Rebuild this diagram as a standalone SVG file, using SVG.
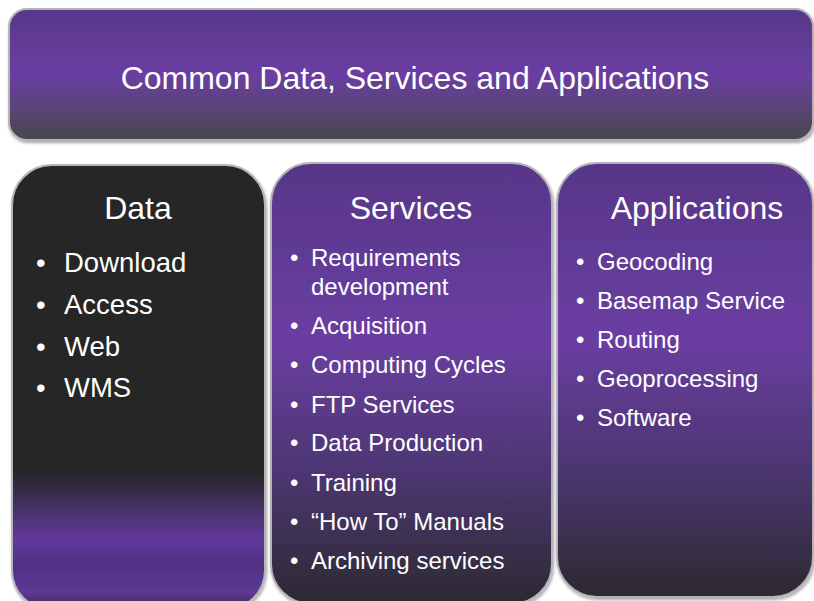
<svg xmlns="http://www.w3.org/2000/svg" width="814" height="601" viewBox="0 0 814 601">
<style>
.box{stroke:#b4b4b8;stroke-width:2}
.t{font-family:"Liberation Sans",Arial,sans-serif;fill:#ffffff}
.h{font-size:32px;text-anchor:middle}
.big{font-size:27.5px}
.sm{font-size:24px}
</style>
<defs>
<linearGradient id="gTop" x1="0" y1="0" x2="0" y2="1">
<stop offset="0" stop-color="#583789"/>
<stop offset="0.5" stop-color="#6a3ea2"/>
<stop offset="0.75" stop-color="#5a4478"/>
<stop offset="1" stop-color="#48464e"/>
</linearGradient>
<linearGradient id="gData" x1="0" y1="0" x2="0" y2="1">
<stop offset="0" stop-color="#262626"/>
<stop offset="0.69" stop-color="#262626"/>
<stop offset="0.78" stop-color="#4a3270"/>
<stop offset="0.84" stop-color="#60389a"/>
<stop offset="0.9" stop-color="#4f3282"/>
<stop offset="0.96" stop-color="#5e3896"/>
<stop offset="1" stop-color="#2e2838"/>
</linearGradient>
<linearGradient id="gCol" x1="0" y1="0" x2="0" y2="1">
<stop offset="0" stop-color="#573688"/>
<stop offset="0.4" stop-color="#6a3ea2"/>
<stop offset="0.7" stop-color="#4d3672"/>
<stop offset="1" stop-color="#2c2a30"/>
</linearGradient>
<filter id="sh" x="-5%" y="-5%" width="110%" height="110%">
<feDropShadow dx="1" dy="2" stdDeviation="1.5" flood-color="#000" flood-opacity="0.35"/>
</filter>
</defs>
<rect width="814" height="601" fill="#ffffff"/>
<g id="top">
<rect class="box" x="9" y="9" width="804" height="131" rx="18" fill="url(#gTop)" filter="url(#sh)"/>
<text class="t h" x="415" y="89">Common Data, Services and Applications</text>
</g>
<g id="data">
<rect class="box" x="12" y="165" width="253" height="445" rx="40" fill="url(#gData)" filter="url(#sh)"/>
<text class="t h" x="138" y="219">Data</text>
<g class="t big">
<text x="36" y="272">•</text><text x="64" y="272">Download</text>
<text x="36" y="314">•</text><text x="64" y="314">Access</text>
<text x="36" y="356">•</text><text x="64" y="356">Web</text>
<text x="36" y="397">•</text><text x="64" y="397">WMS</text>
</g>
</g>
<g id="services">
<rect class="box" x="271" y="163" width="281" height="441" rx="40" fill="url(#gCol)" filter="url(#sh)"/>
<text class="t h" x="411" y="219">Services</text>
<g class="t sm">
<text x="290" y="266">•</text><text x="311" y="266">Requirements</text>
<text x="311" y="295">development</text>
<text x="290" y="334">•</text><text x="311" y="334">Acquisition</text>
<text x="290" y="373">•</text><text x="311" y="373">Computing Cycles</text>
<text x="290" y="413">•</text><text x="311" y="413">FTP Services</text>
<text x="290" y="451">•</text><text x="311" y="451">Data Production</text>
<text x="290" y="491">•</text><text x="311" y="491">Training</text>
<text x="290" y="530">•</text><text x="311" y="530">“How To” Manuals</text>
<text x="290" y="569">•</text><text x="311" y="569">Archiving services</text>
</g>
</g>
<g id="applications">
<rect class="box" x="557" y="163" width="256" height="434" rx="40" fill="url(#gCol)" filter="url(#sh)"/>
<text class="t h" x="697" y="219">Applications</text>
<g class="t sm">
<text x="576" y="270">•</text><text x="597" y="270">Geocoding</text>
<text x="576" y="309">•</text><text x="597" y="309">Basemap Service</text>
<text x="576" y="348">•</text><text x="597" y="348">Routing</text>
<text x="576" y="387">•</text><text x="597" y="387">Geoprocessing</text>
<text x="576" y="426">•</text><text x="597" y="426">Software</text>
</g>
</g>
<g id="connectors"/>
</svg>
